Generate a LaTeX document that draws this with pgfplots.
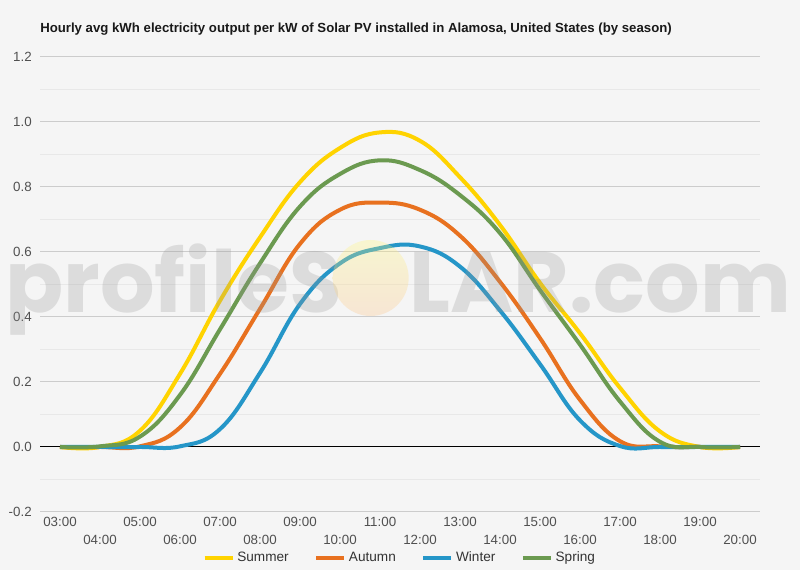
\documentclass[border=0pt]{standalone}
\usepackage{fontspec}
\setmainfont{Liberation Sans}
\newfontfamily\wmfont{Poppins}
\usepackage{pgfplots}
\pgfplotsset{compat=1.18}

\definecolor{bg}{HTML}{F5F5F5}
\definecolor{summer}{HTML}{FFD300}
\definecolor{autumn}{HTML}{E8711F}
\definecolor{winter}{HTML}{2596C8}
\definecolor{spring}{HTML}{6B9A50}
\definecolor{ticktext}{HTML}{505050}

% hourly averages
\pgfplotstableread{
h    summer autumn winter spring
3    0.000  0.000  0.000  0.000
4    0.000  0.000  0.000  0.002
5    0.050  0.002  0.000  0.032
6    0.225  0.060  0.002  0.160
7    0.450  0.225  0.055  0.362
8    0.645  0.425  0.228  0.565
9    0.815  0.625  0.440  0.740
10   0.920  0.730  0.565  0.840
11   0.968  0.752  0.612  0.882
12   0.942  0.730  0.617  0.852
13   0.830  0.650  0.555  0.775
14   0.683  0.508  0.420  0.658
15   0.505  0.335  0.255  0.483
16   0.350  0.145  0.082  0.315
17   0.182  0.018  0.003  0.140
18   0.048  0.002  0.000  0.016
19   0.000  0.000  0.000  0.000
20   0.000  0.000  0.000  0.000
}\solar

\begin{document}
\begin{tikzpicture}
\useasboundingbox[fill=bg] (0,0) rectangle (600pt,427.5pt);
\node[anchor=base west, inner sep=0, font=\bfseries\fontsize{9.9}{12}\selectfont, text=black!90]
  at (30pt,402.75pt) {Hourly avg kWh electricity output per kW of Solar PV installed in Alamosa, United States (by season)};
\begin{axis}[
  at={(30pt,43.5pt)}, anchor=south west,
  scale only axis, width=540pt, height=341.25pt,
  xmin=2.5, xmax=20.5, ymin=-0.2, ymax=1.2,
  axis line style={draw=none},
  major tick length=0pt, minor tick length=0pt,
  ytick={-0.2,0,0.2,0.4,0.6,0.8,1.0,1.2},
  minor y tick num=1,
  ymajorgrids, yminorgrids,
  major grid style={draw=black!20, line width=0.75pt},
  minor grid style={draw=black!9, line width=0.75pt},
  /pgf/number format/assume math mode=true,
  yticklabel style={/pgf/number format/fixed, /pgf/number format/fixed zerofill,
    /pgf/number format/precision=1,
    font=\fontsize{10}{12}\selectfont, text=ticktext, xshift=-2.7pt},
  xtick={3,5,...,19},
  xticklabels={03:00,05:00,07:00,09:00,11:00,13:00,15:00,17:00,19:00},
  extra x ticks={4,6,...,20},
  extra x tick labels={04:00,06:00,08:00,10:00,12:00,14:00,16:00,18:00,20:00},
  extra x tick style={xticklabel style={yshift=-13.5pt}},
  xticklabel style={font=\fontsize{10}{12}\selectfont, text=ticktext},
  legend columns=4,
  legend style={at={(0.5,-0.101)}, anchor=center, draw=none, fill=none,
    font=\fontsize{10.2}{12}\selectfont, text=black!80,
    /tikz/every even column/.append style={column sep=17pt}},
  legend image code/.code={\draw[#1, line width=3.2pt] (0pt,0pt) -- (21pt,0pt);},
  every axis plot/.append style={line width=3pt, smooth, tension=0.7, no markers},
]
\draw[black, line width=0.75pt] (axis cs:2.5,0) -- (axis cs:20.5,0);
\addplot[summer] table[x=h, y=summer] {\solar};
\addplot[autumn] table[x=h, y=autumn] {\solar};
\addplot[winter] table[x=h, y=winter] {\solar};
\addplot[spring] table[x=h, y=spring] {\solar};
\legend{Summer, Autumn, Winter, Spring}
\end{axis}
% watermark
\node[anchor=base west, inner sep=0, text={rgb,255:red,150;green,150;blue,150}, opacity=0.26]
  at (3.75pt,193pt) {\resizebox{589pt}{!}{\wmfont\bfseries profileS\phantom{O}LAR.com}};
\shade[top color={rgb,255:red,255;green,248;blue,122}, bottom color={rgb,255:red,252;green,195;blue,135}, opacity=0.3]
  (278pt,219pt) circle (28.5pt);
\end{tikzpicture}
\end{document}
